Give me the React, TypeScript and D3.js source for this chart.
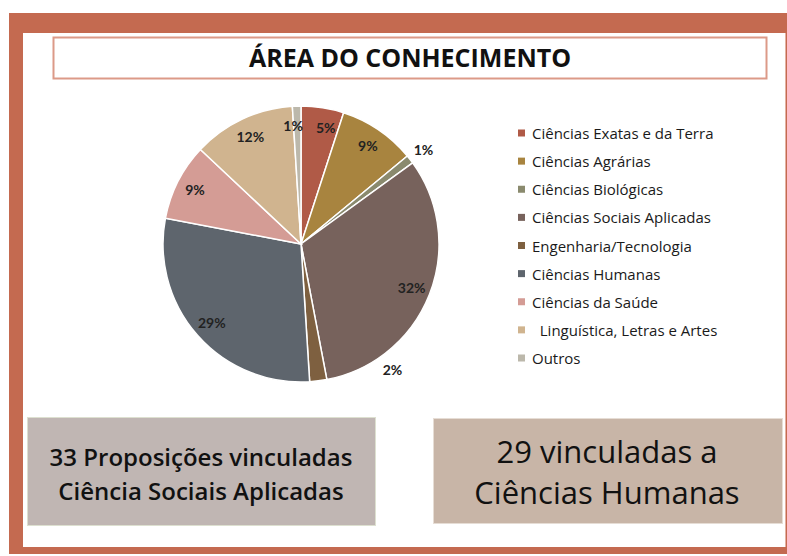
import React from 'react';
import * as d3 from 'd3';

const categories = [
    'Ciências Exatas e da Terra',
    'Ciências Agrárias',
    'Ciências Biológicas',
    'Ciências Sociais Aplicadas',
    'Engenharia/Tecnologia',
    'Ciências Humanas',
    'Ciências da Saúde',
    '  Linguística, Letras e Artes',
    'Outros',
];
const shares = [5, 9, 1, 32, 2, 29, 9, 12, 1];
const colors = ['#b05a47', '#a8843f', '#8a8a6e', '#77625c', '#7e6040', '#5e656d', '#d49c95', '#d0b48f', '#bcb8ab'];

const title = 'ÁREA DO CONHECIMENTO';
const leftNote = ['33 Proposições vinculadas', 'Ciência Sociais Aplicadas'];
const rightNote = ['29 vinculadas a', 'Ciências Humanas'];

const FONT = 'Lato, "Open Sans", sans-serif';
const WIDE = '"Open Sans", Lato, sans-serif';

export default function App() {
    const cx = 301;
    const cy = 244;
    const r = 138;

    const pie = d3.pie<number>().sort(null).value((d) => d);
    const arcs = pie(shares);
    const arc = d3.arc<d3.PieArcDatum<number>>().innerRadius(0).outerRadius(r);

    // labels: small slices on the right sit outside, the rest inside
    const labelPos = (d: d3.PieArcDatum<number>, i: number) => {
        let a = (d.startAngle + d.endAngle) / 2;
        let rr = 119;
        if (i === 2 || i === 4) {
            rr = 155;
            if (i === 4) a -= (29 * Math.PI) / 180;
        }
        if (i === 0) a += (3 * Math.PI) / 180;
        if (i === 8) a -= (2 * Math.PI) / 180;
        return [Math.sin(a) * rr, -Math.cos(a) * rr];
    };

    const legendY = d3.scalePoint<string>().domain(categories).range([133, 358]);

    return (
        <svg width={787} height={556} style={{ position: 'absolute', left: 0, top: 0 }}>
            <rect x={0} y={0} width={787} height={556} fill="#fff" />
            {/* frame */}
            <rect x={9} y={13} width={800} height={541} fill="#c46a50" />
            <rect x={23} y={33} width={763} height={514} fill="#fff" />
            <line x1={785.5} x2={785.5} y1={33} y2={547} stroke="#e3b1a3" />

            {/* title */}
            <rect x={53.5} y={37.5} width={713} height={41} fill="#fff" stroke="#dc9a88" strokeWidth={2} />
            <text x={410} y={57} textAnchor="middle" dominantBaseline="central"
                fontFamily={WIDE} fontWeight="bold" fontSize={25} fill="#111">{title}</text>

            {/* pie */}
            <g transform={`translate(${cx},${cy})`}>
                {arcs.map((d, i) => (
                    <path key={i} d={arc(d) || ''} fill={colors[i]} stroke="#fff" strokeWidth={1.5} />
                ))}
                {arcs.map((d, i) => {
                    const [x, y] = labelPos(d, i);
                    return (
                        <text key={i} x={x} y={y} textAnchor="middle" dominantBaseline="central"
                            fontFamily={FONT} fontWeight="bold" fontSize={14} fill="#222">{shares[i]}%</text>
                    );
                })}
            </g>

            {/* legend */}
            {categories.map((c, i) => (
                <g key={c} transform={`translate(518,${legendY(c)})`}>
                    <rect x={0} y={-3.5} width={7} height={7} fill={colors[i]} />
                    <text x={14} y={0} dominantBaseline="central" fontFamily={WIDE} fontSize={15}
                        fill="#1a1a1a" style={{ whiteSpace: 'pre' }}>{c}</text>
                </g>
            ))}

            {/* notes */}
            <rect x={27.5} y={417.5} width={348} height={108} fill="#c0b6b3" stroke="#dde0d0" />
            {leftNote.map((t, i) => (
                <text key={t} x={201} y={456 + i * 34} textAnchor="middle" dominantBaseline="central"
                    fontFamily={WIDE} fontWeight={600} fontSize={24} fill="#111">{t}</text>
            ))}
            <rect x={433.5} y={418.5} width={349} height={105} fill="#c8b5a7" stroke="#e6ddd5" />
            {rightNote.map((t, i) => (
                <text key={t} x={607} y={451 + i * 41} textAnchor="middle" dominantBaseline="central"
                    fontFamily={WIDE} fontSize={31} fill="#111">{t}</text>
            ))}
        </svg>
    );
}
